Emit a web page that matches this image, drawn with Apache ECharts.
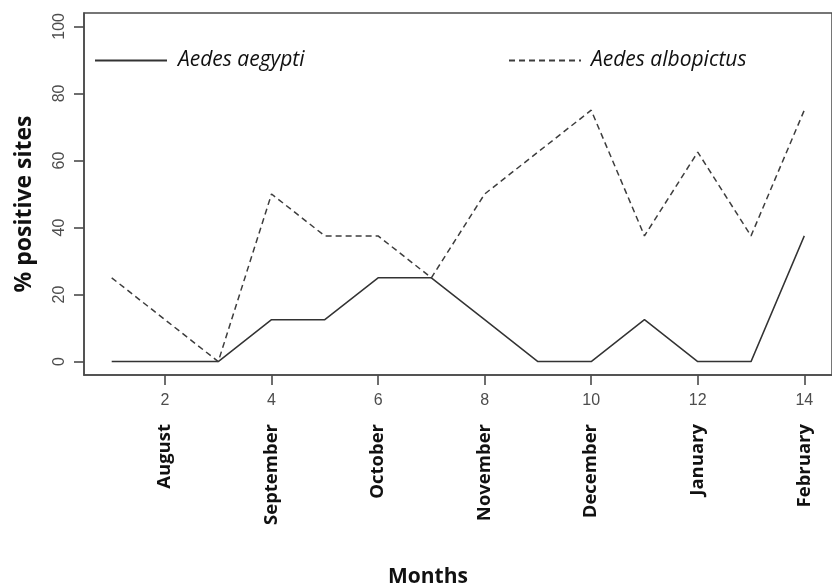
<!DOCTYPE html>
<html>
<head>
<meta charset="utf-8">
<script src="https://cdn.jsdelivr.net/npm/echarts@6/dist/echarts.min.js"></script>
<style>html,body{margin:0;padding:0;background:#fff;}#c{width:832px;height:588px;}</style>
</head>
<body>
<div id="c"></div>
<script>
var xValues = [1,2,3,4,5,6,7,8,9,10,11,12,13,14];
var aegypti = [0,0,0,12.5,12.5,25,25,12.5,0,0,12.5,0,0,37.5];
var albopictus = [25,12.5,0,50,37.5,37.5,25,50,62.5,75,37.5,62.5,37.5,75];
var xTicks = [2,4,6,8,10,12,14];
var monthNames = ['August','September','October','November','December','January','February'];
var yTicks = [0,20,40,60,80,100];
var xTitle = 'Months';
var yTitle = '% positive sites';

function pairs(xs, ys){ return xs.map(function(x,i){ return [x, ys[i]]; }); }

var chart = echarts.init(document.getElementById('c'), null, {renderer:'canvas'});
var axisColor = '#4a4a4a';
function legendText(pad){ return {fontFamily: 'Open Sans', fontStyle: 'italic', fontSize: 21, color: '#111', padding: [0,0,0,pad]}; }
chart.setOption({
  animation: false,
  backgroundColor: '#fff',
  grid: {left: 84, top: 13, right: -11, bottom: 213, show: true, borderColor: axisColor, borderWidth: 1.5, containLabel: false},
  legend: [
    {left: 94, top: 50, padding: 0, itemWidth: 72, itemHeight: 20, data: ['Aedes aegypti'],
     itemStyle: {opacity: 0}, textStyle: legendText(6)},
    {left: 508, top: 50, padding: 0, itemWidth: 72, itemHeight: 20, data: ['Aedes albopictus'],
     itemStyle: {opacity: 0}, textStyle: legendText(5)}
  ],
  graphic: [
    {type: 'text', x: 428, y: 577, style: {text: xTitle, fontFamily: 'Open Sans', fontWeight: 'bold', fontSize: 21, fill: '#111', align: 'center', verticalAlign: 'middle'}},
    {type: 'text', x: 24, y: 204, rotation: Math.PI/2, style: {text: yTitle, fontFamily: 'Open Sans', fontWeight: 'bold', fontSize: 23, fill: '#111', align: 'center', verticalAlign: 'middle'}}
  ],
  xAxis: [
    {type: 'value', min: 0.48, max: 14.52, position: 'bottom',
     splitLine: {show: false}, axisLine: {show: true, onZero: false, lineStyle: {color: axisColor, width: 1.5}},
     axisTick: {show: true, inside: false, length: 10, customValues: xTicks, lineStyle: {color: axisColor, width: 1.6}},
     axisLabel: {show: true, customValues: xTicks, margin: 18, fontFamily: 'Liberation Sans', fontSize: 16, color: '#4d4d4d'}
    },
    {type: 'value', min: 0.48, max: 14.52, position: 'bottom',
     splitLine: {show: false}, axisLine: {show: false, onZero: false}, axisTick: {show: false},
     axisLabel: {show: true, customValues: xTicks, rotate: 90, margin: 49, fontFamily: 'Open Sans', fontWeight: 'bold', fontSize: 18.5, color: '#111',
       formatter: function(v){ var i = xTicks.indexOf(v); return i >= 0 ? monthNames[i] : ''; }}
    }
  ],
  yAxis: {type: 'value', min: -4, max: 104,
    splitLine: {show: false}, axisLine: {show: true, onZero: false, lineStyle: {color: axisColor, width: 1.5}},
    axisTick: {show: true, length: 10, customValues: yTicks, lineStyle: {color: axisColor, width: 1.6}},
    axisLabel: {show: true, customValues: yTicks, rotate: 90, margin: 16, fontFamily: 'Liberation Sans', fontSize: 16, color: '#4d4d4d'}
  },
  series: [
    {name: 'Aedes aegypti', type: 'line', data: pairs(xValues, aegypti), symbol: 'none', showSymbol: false,
     lineStyle: {color: '#333', width: 1.5, type: 'solid'}, itemStyle: {color: '#333'}},
    {name: 'Aedes albopictus', type: 'line', data: pairs(xValues, albopictus), symbol: 'none', showSymbol: false,
     lineStyle: {color: '#3d3d3d', width: 1.5, type: [6,4]}, itemStyle: {color: '#3d3d3d'}}
  ]
});
</script>
</body>
</html>
